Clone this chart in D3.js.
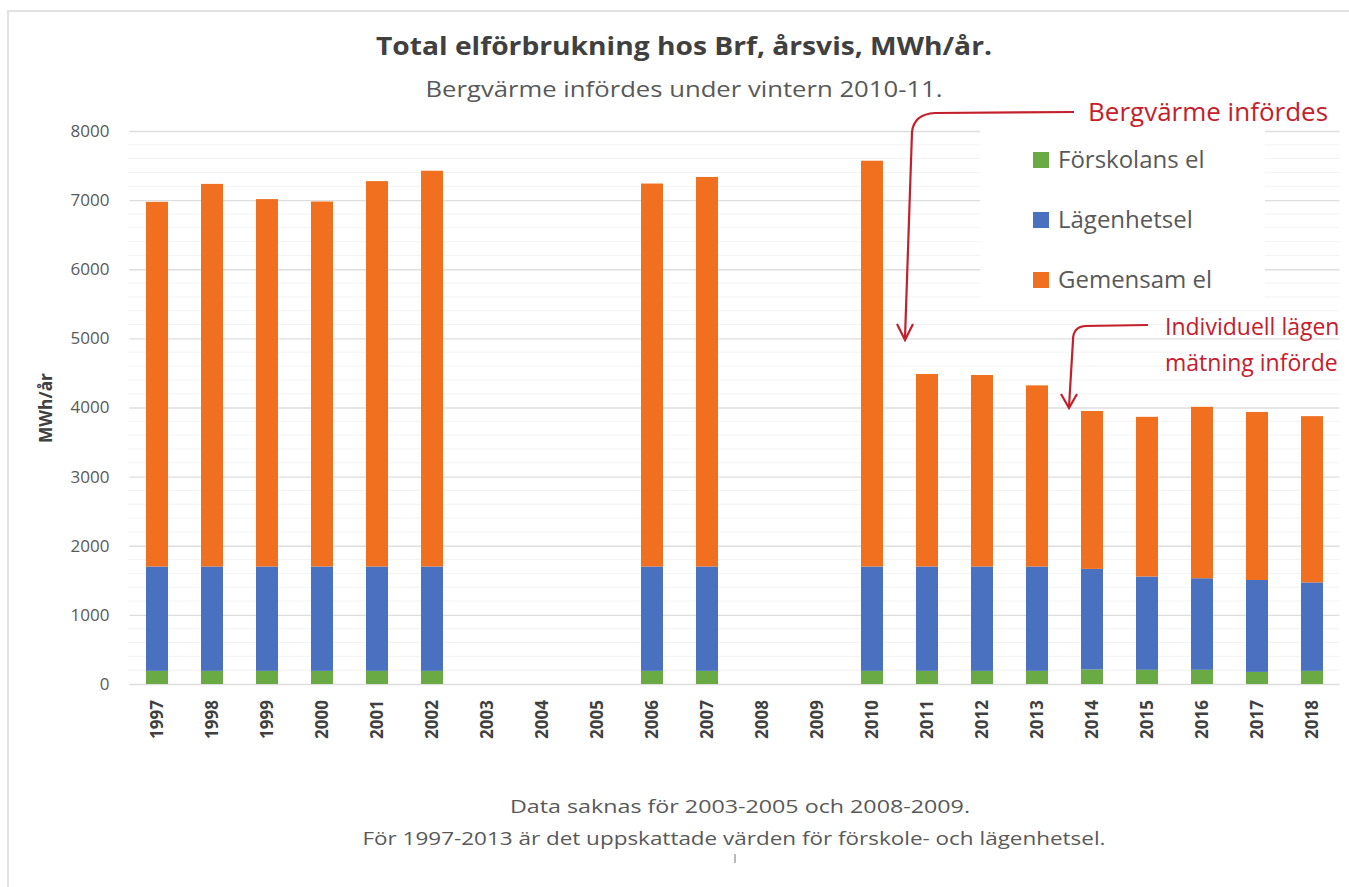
<!DOCTYPE html>
<html>
<head>
<meta charset="utf-8">
<script src="https://cdn.jsdelivr.net/npm/d3@7"></script>
<style>
  html, body { margin: 0; padding: 0; background: #fff; overflow: hidden; }
  text { font-family: "Open Sans", "Noto Sans", sans-serif; }
</style>
</head>
<body>
<div id="chart"></div>
<script>
const years = ["1997","1998","1999","2000","2001","2002","2003","2004","2005","2006","2007","2008","2009","2010","2011","2012","2013","2014","2015","2016","2017","2018"];
// null = data saknas
const forskolansEl = [190,190,190,190,190,190,null,null,null,190,190,null,null,190,190,190,190,210,205,205,175,190];
const lagenhetsel  = [1510,1510,1510,1510,1510,1510,null,null,null,1510,1510,null,null,1510,1510,1510,1510,1455,1350,1325,1330,1280];
const gemensamEl   = [5275,5535,5315,5280,5575,5725,null,null,null,5540,5635,null,null,5870,2785,2770,2620,2285,2310,2480,2430,2405];
const seriesNames  = ["Förskolans el","Lägenhetsel","Gemensam el"];
const seriesColors = ["#6aaa44","#4a70c0","#f07020"];
const yTicks = [0,1000,2000,3000,4000,5000,6000,7000,8000];

const W = 1349, H = 887;
const svg = d3.select("#chart").append("svg").attr("width", W).attr("height", H);

// chart frame
svg.append("rect").attr("x", 8).attr("y", 11).attr("width", W + 20).attr("height", H + 20)
  .attr("fill", "none").attr("stroke", "#e2e2e2").attr("stroke-width", 2);

const pLeft = 129.5, pRight = 1339.5, pTop = 131, pBottom = 684;
const x = d3.scaleBand().domain(years).range([pLeft, pRight]).paddingInner(0.6).paddingOuter(0.3);
const y = d3.scaleLinear().domain([0, 8000]).range([pBottom, pTop]);

// minor gridlines
const minor = d3.range(200, 8000, 200).filter(v => v % 1000 !== 0);
svg.append("g").selectAll("line").data(minor).join("line")
  .attr("x1", 128).attr("x2", pRight).attr("y1", d => y(d)).attr("y2", d => y(d))
  .attr("stroke", "#f3f3f3").attr("stroke-width", 1);
// major gridlines via axis
const yAxis = svg.append("g").attr("transform", `translate(${pLeft},0)`)
  .call(d3.axisLeft(y).tickValues(yTicks).tickSize(-(pRight - pLeft)).tickFormat(d3.format("d")).tickPadding(20));
yAxis.select(".domain").remove();
yAxis.selectAll(".tick line").attr("stroke", "#dedede").attr("stroke-width", 1.3);
yAxis.selectAll(".tick text").attr("fill", "#595959").style("font-size", "17px");

// stacked bars
const rows = years.map((yr, i) => ({ year: yr, f: forskolansEl[i], l: lagenhetsel[i], g: gemensamEl[i] }));
const stack = d3.stack().keys(["f","l","g"]).value((d, k) => d[k] || 0);
const stacked = stack(rows);
svg.append("g").selectAll("g").data(stacked).join("g")
  .attr("fill", (d, i) => seriesColors[i])
  .selectAll("rect").data(d => d.filter(p => p.data.f !== null)).join("rect")
  .attr("x", d => x(d.data.year)).attr("width", x.bandwidth())
  .attr("y", d => y(d[1])).attr("height", d => y(d[0]) - y(d[1]));

// x axis labels
const xAxis = svg.append("g").attr("transform", `translate(0,${pBottom})`)
  .call(d3.axisBottom(x).tickSize(0).tickPadding(0));
xAxis.select(".domain").remove();
xAxis.selectAll(".tick text")
  .attr("transform", "rotate(-90)")
  .attr("x", -16).attr("y", 0).attr("dy", "0.35em")
  .attr("text-anchor", "end")
  .attr("fill", "#404040").style("font-size", "17px").style("font-weight", "bold");

// y axis title
svg.append("text").attr("transform", "translate(46,408) rotate(-90)")
  .attr("text-anchor", "middle").attr("dy", "0.35em")
  .attr("fill", "#404040").style("font-size", "17px").style("font-weight", "bold")
  .attr("textLength", 70).attr("lengthAdjust", "spacingAndGlyphs").text("MWh/år");

// titles
svg.append("text").attr("x", 684).attr("y", 55).attr("text-anchor", "middle")
  .attr("fill", "#404040").style("font-size", "25px").style("font-weight", "bold")
  .attr("textLength", 616).attr("lengthAdjust", "spacingAndGlyphs")
  .text("Total elförbrukning hos Brf,  årsvis,  MWh/år.");
svg.append("text").attr("x", 684).attr("y", 97).attr("text-anchor", "middle")
  .attr("fill", "#595959").style("font-size", "22px")
  .attr("textLength", 517).attr("lengthAdjust", "spacingAndGlyphs")
  .text("Bergvärme infördes under vintern 2010-11.");

// legend (white box hides gridlines)
svg.append("rect").attr("x", 980).attr("y", 118).attr("width", 285).attr("height", 190).attr("fill", "#fff");
const leg = svg.append("g");
seriesNames.forEach((n, i) => {
  const cy = 160 + i * 60;
  leg.append("rect").attr("x", 1033).attr("y", cy - 8).attr("width", 16).attr("height", 16).attr("fill", seriesColors[i]);
  leg.append("text").attr("x", 1058).attr("y", cy).attr("dy", "0.35em")
    .attr("fill", "#595959").style("font-size", "24px").text(n);
});

// annotations
const red = "#c4202c";
const ann = svg.append("g").attr("fill", "none").attr("stroke", red).attr("stroke-width", 2.2);
ann.append("path").attr("d", "M1074,112 L935,113 Q914,114 912,132 L905,338");
ann.append("path").attr("d", "M897,324 L905,340 L913,324");
ann.append("path").attr("d", "M1148,325 L1085,326 Q1073,327 1073,340 L1069,407");
ann.append("path").attr("d", "M1061,394 L1069,408 L1077,394");

svg.append("text").attr("x", 1088).attr("y", 112).attr("dy", "0.35em")
  .attr("fill", red).style("font-size", "26px").text("Bergvärme infördes");
svg.append("text").attr("x", 1165).attr("y", 327).attr("dy", "0.35em")
  .attr("fill", red).style("font-size", "23px").text("Individuell lägen");
svg.append("text").attr("x", 1165).attr("y", 363).attr("dy", "0.35em")
  .attr("fill", red).style("font-size", "23px").text("mätning införde");

// footnotes
svg.append("text").attr("x", 740).attr("y", 806).attr("dy", "0.35em").attr("text-anchor", "middle")
  .attr("fill", "#595959").style("font-size", "19px")
  .attr("textLength", 460).attr("lengthAdjust", "spacingAndGlyphs")
  .text("Data saknas för 2003-2005 och 2008-2009.");
svg.append("text").attr("x", 734).attr("y", 838).attr("dy", "0.35em").attr("text-anchor", "middle")
  .attr("fill", "#595959").style("font-size", "19px")
  .attr("textLength", 743).attr("lengthAdjust", "spacingAndGlyphs")
  .text("För 1997-2013 är det uppskattade värden för förskole- och lägenhetsel.");
svg.append("line").attr("x1", 735).attr("x2", 735).attr("y1", 854).attr("y2", 863)
  .attr("stroke", "#777").attr("stroke-width", 1);
</script>
</body>
</html>
